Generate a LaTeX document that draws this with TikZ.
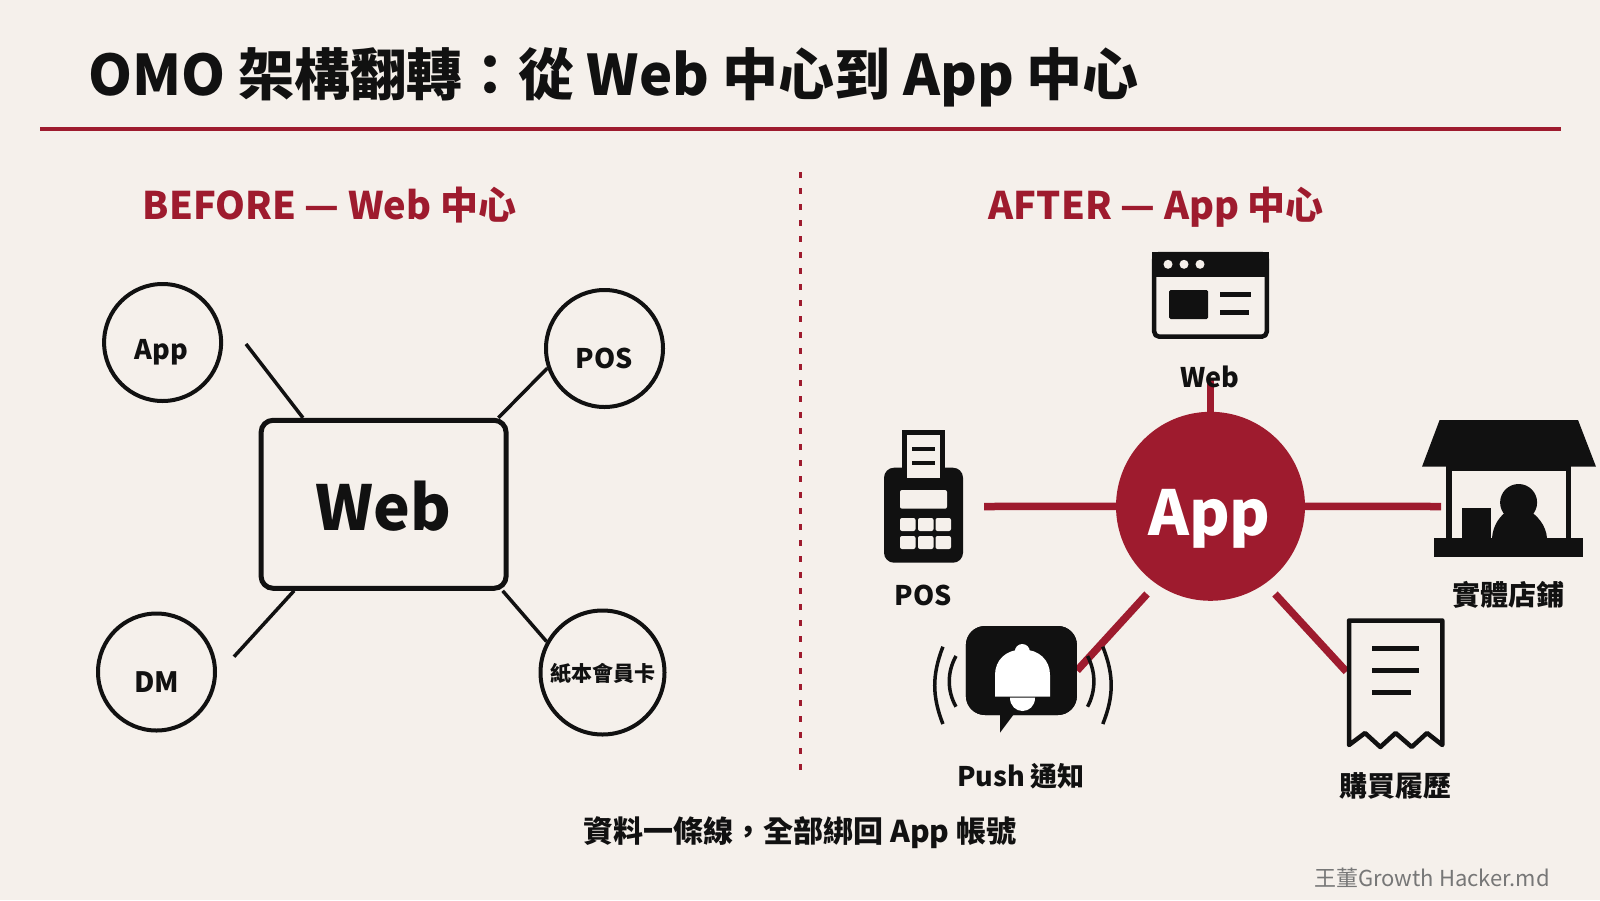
\documentclass[tikz,border=0pt]{standalone}
\usepackage{fontspec}
\setmainfont{Noto Sans CJK TC}
\definecolor{paper}{HTML}{F5F0EB}
\definecolor{ink}{HTML}{111111}
\definecolor{wine}{HTML}{9E1B2E}
\definecolor{mute}{HTML}{777777}
\tikzset{
  lab/.style={anchor=base, inner sep=0pt, text=ink, font=\bfseries\fontsize{27}{30}\selectfont},
  head/.style={anchor=base west, inner sep=0pt, text=wine, font=\bfseries\fontsize{38}{42}\selectfont},
  ring/.style={circle, draw=ink, line width=4pt, inner sep=0pt},
  spoke/.style={ink, line width=3.5pt},
  redspoke/.style={wine, line width=7.5pt},
  frame/.style={draw=ink, line width=4.5pt, line join=round}
}
\begin{document}
\begin{tikzpicture}[x=1pt, y=-1pt]
\useasboundingbox[fill=paper] (0,0) rectangle (1600,900);
\node[anchor=base west, inner sep=0pt, text=ink, font=\bfseries\fontsize{56}{60}\selectfont] (T_title) at (88,95) {OMO 架構翻轉：從 Web 中心到 App 中心};
\coordinate (C_rule_l) at (40,129);
\coordinate (C_rule_r) at (1561,129);
\draw[wine, line width=4pt] (C_rule_l) -- (C_rule_r);
\coordinate (C_div_t) at (800.5,172);
\coordinate (C_div_b) at (800.5,770);
\draw[wine, line width=3pt, dash pattern=on 6pt off 10pt] (C_div_t) -- (C_div_b);
\node[head] (T_before) at (142.5,219) {BEFORE — Web 中心};
\node[head] (T_after) at (988.5,219) {AFTER — App 中心};
% before
\node[draw=ink, line width=5pt, rounded corners=12pt, minimum width=245pt, minimum height=168pt, inner sep=0pt] (P_web) at (383.6,504.3) {};
\node[lab, font=\bfseries\fontsize{62}{70}\selectfont] (T_web) at (383,530) {Web};
\node[ring, minimum size=117pt] (P_app) at (162.6,342.5) {};
\node[lab] (T_app) at (161.5,359.5) {App};
\node[ring, minimum size=117pt] (P_pos) at (604.5,348.5) {};
\node[lab] (T_pos) at (604.5,368) {POS};
\node[ring, minimum size=117pt] (P_dm) at (156.5,672) {};
\node[lab, font=\bfseries\fontsize{28}{30}\selectfont] (T_dm) at (157,692) {DM};
\node[ring, minimum size=124pt] (P_card) at (602.5,672.5) {};
\node[lab, font=\bfseries\fontsize{21}{24}\selectfont] (T_card) at (602.5,681) {紙本會員卡};
\coordinate (C_app) at (246,344);
\coordinate (C_dm) at (234,656.7);
\draw[spoke] (C_app) -- (P_web.133);
\draw[spoke] (P_web.37) -- (P_pos.199);
\draw[spoke] (C_dm) -- (P_web.224);
\draw[spoke] (P_web.-36.5) -- (P_card.151);
% after
\coordinate (C_top) at (1210.5,380);
\coordinate (C_left) at (984,506.5);
\coordinate (C_right) at (1441,506.5);
\coordinate (C_bell) at (1147,594);
\coordinate (C_bill) at (1275,594);
\node[circle, fill=wine, minimum size=189pt, inner sep=0pt] (P_hub) at (1210.5,506.3) {};
\node[lab, text=white, font=\bfseries\fontsize{62}{70}\selectfont] (T_hub) at (1209.5,535) {App};
\draw[redspoke] (C_top) -- (P_hub);
\node[lab] (T_top) at (1210,387) {Web};
\draw[redspoke] (C_left) -- (P_hub);
\draw[redspoke] (P_hub) -- (C_right);
% web icon
\draw[frame, rounded corners=5pt] (1154.2,254) -- (1266.8,254) -- (1266.8,336.7) -- (1154.2,336.7) -- cycle;
\fill[ink] (1152,252) rectangle (1269,276.7);
\foreach \px in {1168,1184,1200} \fill[paper] (\px,264.3) circle (4.5pt);
\fill[ink, rounded corners=1.5pt] (1169,290) rectangle (1208,319);
\fill[ink] (1220,292) rectangle (1251,297);
\fill[ink] (1220,310) rectangle (1249,315);
% pos icon
\fill[ink, rounded corners=10pt] (884,467.7) rectangle (963,562.7);
\fill[ink] (902,430) rectangle (945,478);
\fill[paper] (907,435) rectangle (940,478);
\fill[ink] (912,447) rectangle (935,451);
\fill[ink] (912,461) rectangle (935,465);
\fill[paper, rounded corners=2pt] (900,490) rectangle (947,508.7);
\foreach \py in {518,536} \foreach \px in {900,918,935.5} \fill[paper, rounded corners=2pt] (\px,\py) rectangle ++(15.5,13);
\node[lab] (T_left) at (923,605) {POS};
% store icon
\fill[ink] (1439.6,420) -- (1578,420) -- (1596,466.7) -- (1422,466.7) -- cycle;
\fill[ink] (1446,466) rectangle (1571,471);
\fill[ink] (1446,466) rectangle (1452,540);
\fill[ink] (1566,466) rectangle (1571,540);
\fill[ink] (1434,538) rectangle (1583,556.7);
\fill[ink] (1462,508) rectangle (1491,538);
\fill[ink] (1518.6,502.5) circle (18.5pt);
\fill[ink] (1492,538) .. controls (1493,525) and (1500,515) .. (1510,509) -- (1527,509) .. controls (1537,515) and (1546,525) .. (1547,538) -- cycle;
\node[lab, font=\bfseries\fontsize{28}{30}\selectfont] (T_right) at (1508,605) {實體店鋪};
% bell icon
\node[fill=ink, rounded corners=19pt, minimum width=111pt, minimum height=89pt, inner sep=0pt] (P_bell) at (1021.4,670.5) {};
\draw[redspoke] (P_bell.0) -- (C_bell);
\node[fill=ink, rounded corners=19pt, minimum width=111pt, minimum height=89pt, inner sep=0pt] at (1021.4,670.5) {};
\fill[ink] (1000,714) -- (1000,732.7) -- (1014,714) -- cycle;
\fill[white] (1022.3,651.5) circle (7.5pt);
\fill[white] (995,696.7) -- (995,675) .. controls (995,660) and (1006,649.5) .. (1022.5,649.5) .. controls (1039,649.5) and (1050,660) .. (1050,675) -- (1050,696.7) -- cycle;
\fill[white] (1010,697.7) -- (1035,697.7) .. controls (1035,706) and (1029,711) .. (1022.5,711) .. controls (1016,711) and (1010,706) .. (1010,697.7) -- cycle;
\draw[ink, line width=3.5pt] (942.9,646.7) .. controls (932,675) and (932,696) .. (942.9,724);
\draw[ink, line width=3.5pt] (956,656) .. controls (947,672) and (947,691) .. (956,706.7);
\draw[ink, line width=3.5pt] (1087.5,656) .. controls (1096,672) and (1096,691) .. (1087.5,706.7);
\draw[ink, line width=3.5pt] (1102.8,646.7) .. controls (1114,675) and (1114,696) .. (1102.8,724);
\node[lab, font=\bfseries\fontsize{27}{30}\selectfont] (T_bell) at (1021,786) {Push 通知};
% receipt icon
\node[minimum width=98pt, minimum height=130pt, inner sep=0pt] (P_bill) at (1395.6,683) {};
\draw[redspoke] (C_bill) -- (P_bill.167);
\draw[frame] (1349,745) -- (1349,620.5) -- (1442.3,620.5) -- (1442.3,745) -- (1427,733) -- (1411.7,747) -- (1395.6,733) -- (1380.3,747) -- (1365,733) -- cycle;
\fill[ink] (1372,646) rectangle (1419,651);
\fill[ink] (1372,668) rectangle (1419,673);
\fill[ink] (1372,690) rectangle (1411,695);
\node[lab, font=\bfseries\fontsize{28}{30}\selectfont] (T_bill) at (1395,796) {購買履歷};
% footer
\node[lab, font=\bfseries\fontsize{30}{32}\selectfont] (T_note) at (800,842) {資料一條線，全部綁回 App 帳號};
\node[anchor=base east, inner sep=0pt, text=mute, font=\fontsize{22}{26}\selectfont] (T_mark) at (1550,886.5) {王董Growth Hacker.md};
\end{tikzpicture}
\end{document}
